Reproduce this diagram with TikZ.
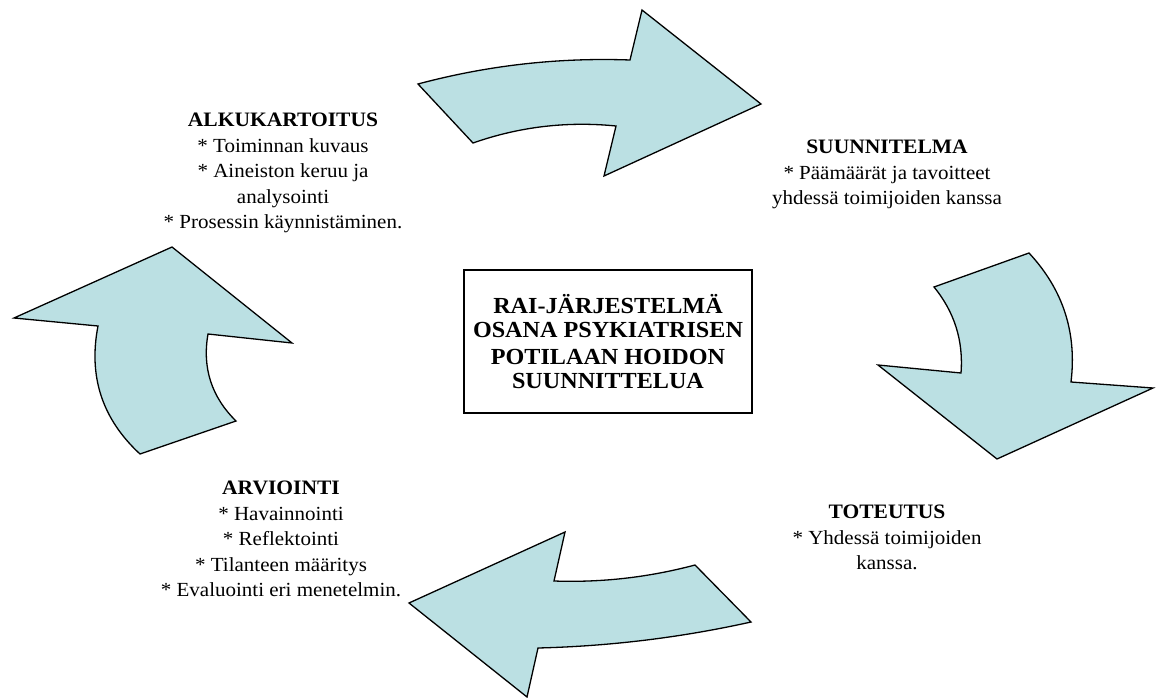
\documentclass[tikz,border=0pt]{standalone}
\usepackage{fontspec}
\setmainfont{Liberation Serif}[FakeStretch=1.05]
\definecolor{arrowfill}{RGB}{187,224,227}
\begin{document}
\begin{tikzpicture}[x=1pt,y=-1pt,
  arrowshape/.style={draw=black, line width=1.3pt, fill=arrowfill, line join=miter},
  lbl/.style={align=center, inner sep=0pt, anchor=north, font=\fontsize{20}{25.5}\selectfont},
  ttl/.style={font=\bfseries\fontsize{20.5}{25.5}\selectfont},
  mainbox/.style={draw=black, line width=1.1pt, minimum width=288, minimum height=143, align=center, inner sep=0pt,
    font=\bfseries\fontsize{23}{23.5}\selectfont}]
\useasboundingbox (0,0) rectangle (1156,698);

% top arrow
\draw[arrowshape] (418,84) .. controls (487.5,65.4) and (558.1,57.4) .. (630,60)
  -- (642,10) -- (761,104) -- (604,176) -- (616,126)
  .. controls (567,121.1) and (519.4,126.7) .. (473,143) -- cycle;
% right arrow
\draw[arrowshape] (1029,253) -- (934,287)
  .. controls (954.5,312.1) and (963.5,340.7) .. (961,373)
  -- (878,365) -- (997,459) -- (1153,388) -- (1071,382)
  .. controls (1077,332.5) and (1063,289.5) .. (1029,253) -- cycle;
% bottom arrow
\draw[arrowshape] (695,565) .. controls (648.8,577.3) and (601.8,582.7) .. (554,581)
  -- (565,532) -- (409,603) -- (527,697) -- (538,648)
  .. controls (609.8,646.2) and (680.9,637.6) .. (751,622) -- cycle;
% left arrow
\draw[arrowshape] (172,247) -- (292,343) -- (208,334)
  .. controls (202.1,367.9) and (211.5,396.9) .. (236,421)
  -- (140,454) .. controls (102.2,419.1) and (88.2,376.5) .. (98,326)
  -- (14,318) -- cycle;

\node[lbl] (alk) at (283,113) {{\bfseries\fontsize{20.5}{25.5}\selectfont ALKUKARTOITUS}\\* Toiminnan kuvaus\\* Aineiston keruu ja\\analysointi\\* Prosessin käynnistäminen.};
\node[lbl] (suun) at (887,140) {{\bfseries\fontsize{20.5}{25.5}\selectfont SUUNNITELMA}\\* Päämäärät ja tavoitteet\\yhdessä toimijoiden kanssa};
\node[lbl] (tot) at (887,505) {{\bfseries\fontsize{20.5}{25.5}\selectfont TOTEUTUS}\\* Yhdessä toimijoiden\\kanssa.};
\node[lbl] (arv) at (281,481) {{\bfseries\fontsize{20.5}{25.5}\selectfont ARVIOINTI}\\* Havainnointi\\* Reflektointi\\* Tilanteen määritys\\* Evaluointi eri menetelmin.};

\node[mainbox] (center) at (608,341.5) {RAI-JÄRJESTELMÄ\\OSANA PSYKIATRISEN\\[4pt]POTILAAN HOIDON\\SUUNNITTELUA};
\end{tikzpicture}
\end{document}
